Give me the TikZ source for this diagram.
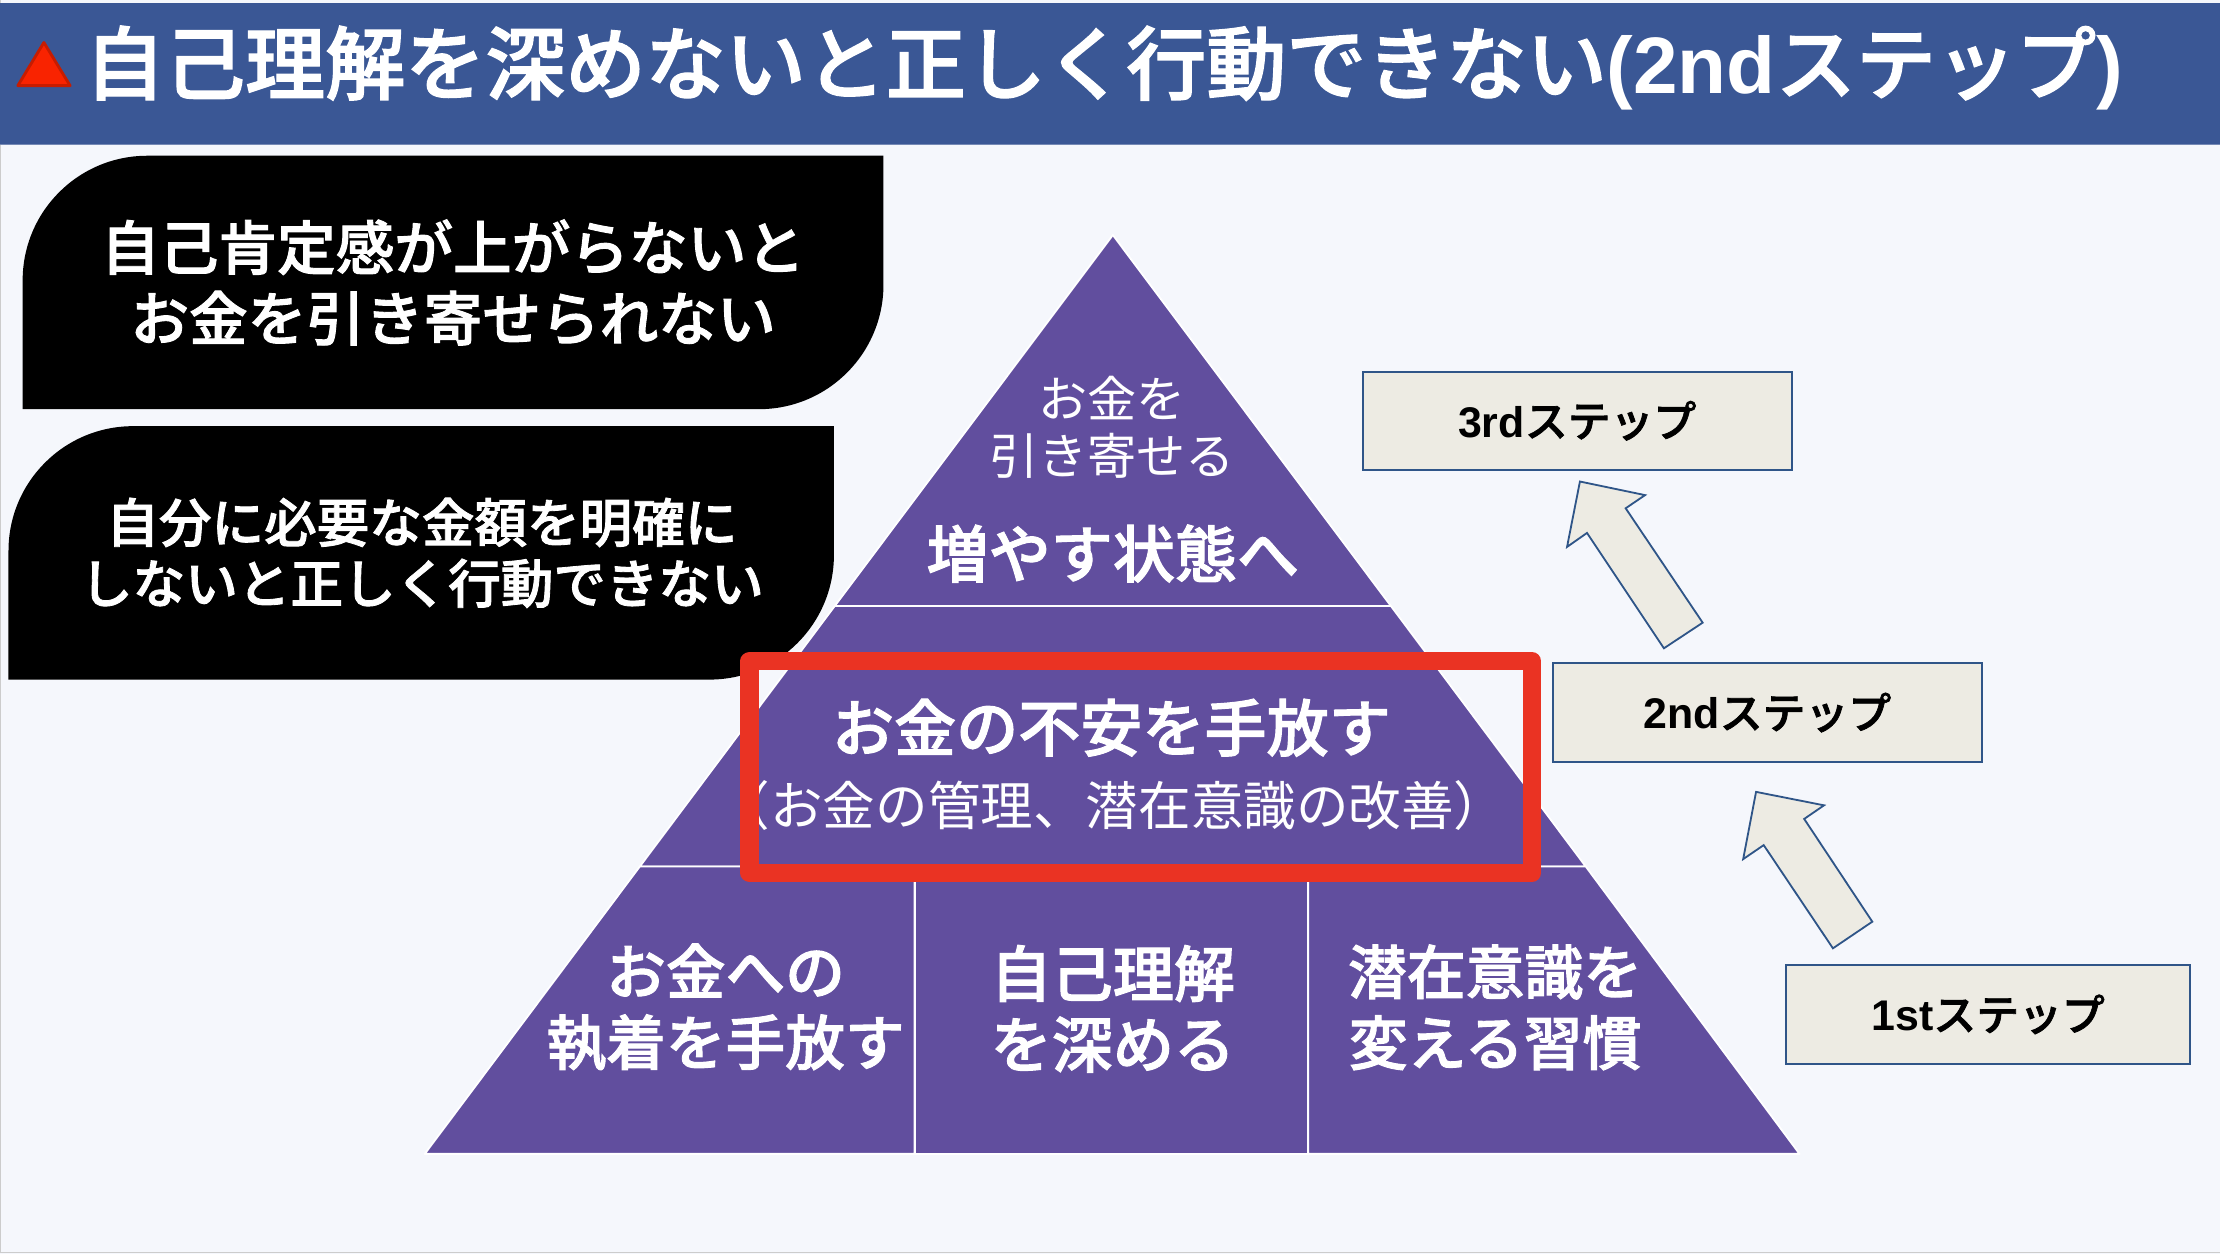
\documentclass[tikz,border=0pt]{standalone}
\usepackage{fontspec}
\setmainfont{Noto Sans CJK JP}[BoldFont={Noto Sans CJK JP Medium},BoldFeatures={FakeBold=1.6}]
\newfontfamily\latfont{Liberation Sans}[BoldFont={Liberation Sans Bold}]
\newcommand{\lat}[1]{{\latfont\bfseries #1}}
\definecolor{pagebg}{HTML}{F5F7FC}
\definecolor{headblue}{HTML}{3A5795}
\definecolor{pyr}{HTML}{614E9E}
\definecolor{hilite}{HTML}{EA3323}
\definecolor{stepfill}{HTML}{EDEBE3}
\definecolor{stepline}{HTML}{2F5588}
\definecolor{emojired}{HTML}{F92300}
\tikzset{
  x=0.7pt,y=-0.7pt,
  txt/.style={inner sep=0pt,outer sep=0pt,align=center,anchor=center,text=white},
  blackbox/.style={fill=black,draw=none},
  pyrpart/.style={fill=pyr,draw=white,line width=0.9pt,line join=round},
  stepbox/.style={fill=stepfill,draw=stepline,line width=1pt},
  uparrow/.style={fill=stepfill,draw=stepline,line width=0.9pt,line join=miter},
  steptext/.style={inner sep=0pt,align=center,anchor=center,text=black,font=\fontsize{21.2pt}{25pt}\selectfont\bfseries},
}
\begin{document}
\begin{tikzpicture}
\useasboundingbox (0,0) rectangle (1568,885.7);
\fill[pagebg] (0,0) rectangle (1568,885.7);
\draw[black!20,line width=0.6pt] (0.4,0) -- (0.4,884.6) -- (1568,884.6);
% header
\fill[headblue] (0,2) rectangle (1568,102);
\draw[headblue!70!white,line width=0.5pt] (0,102) -- (1568,102);
\draw[fill=emojired,draw=emojired!80!black,line width=1.4pt,line join=round]
  (31,30) -- (49.5,60.5) -- (12.6,60.5) -- cycle;
\node[txt,anchor=west,font=\fontsize{39.6pt}{44pt}\selectfont\bfseries] (title) at (60,48)
  {自己理解を深めないと正しく行動できない\lat{(2nd}ステップ\lat{)}};
% black callouts
\path[blackbox] (16,198) .. controls (16,149.4) and (55.4,110) .. (104,110) -- (624,110) -- (624,201)
  .. controls (624,249.6) and (584.6,289) .. (536,289) -- (16,289) -- cycle;
\node[txt,font=\fontsize{29pt}{35pt}\selectfont\bfseries] (callA) at (320,199.5)
  {自己肯定感が上がらないと\\お金を引き寄せられない};
\path[blackbox] (6,389) .. controls (6,340.4) and (45.4,301) .. (94,301) -- (589,301) -- (589,392)
  .. controls (589,440.6) and (549.6,480) .. (501,480) -- (6,480) -- cycle;
\node[txt,font=\fontsize{26pt}{30.1pt}\selectfont\bfseries] (callB) at (298,390.5)
  {自分に必要な金額を明確に\\しないと正しく行動できない};
% pyramid
\draw[pyrpart] (786,166) -- (982.4,428) -- (589.6,428) -- cycle;
\draw[pyrpart] (589.6,428) -- (982.4,428) -- (1120,612) -- (451.9,612) -- cycle;
\draw[pyrpart] (451.9,612) -- (646,612) -- (646,815) -- (300,815) -- cycle;
\draw[pyrpart] (646,612) -- (924,612) -- (924,815) -- (646,815) -- cycle;
\draw[pyrpart] (924,612) -- (1120,612) -- (1271,815) -- (924,815) -- cycle;
\node[txt,font=\fontsize{24.3pt}{28pt}\selectfont] (topa) at (785.5,302) {お金を\\引き寄せる};
\node[txt,font=\fontsize{30.7pt}{35pt}\selectfont\bfseries] (topb) at (786,391) {増やす状態へ};
\node[txt,font=\fontsize{30.7pt}{35pt}\selectfont\bfseries] (mida) at (785,514) {お金の不安を手放す};
\node[txt,font=\fontsize{26pt}{30pt}\selectfont] (midb) at (785.5,569) {（お金の管理、潜在意識の改善）};
\node[txt,font=\fontsize{29.5pt}{35pt}\selectfont\bfseries] (bota) at (512.5,711.5) {お金への\\執着を手放す};
\node[txt,font=\fontsize{30.2pt}{35pt}\selectfont\bfseries] (botb) at (786,712.5) {自己理解\\を深める};
\node[txt,font=\fontsize{29.1pt}{35pt}\selectfont\bfseries] (botc) at (1056,711.5) {潜在意識を\\変える習慣};
% highlight
\draw[hilite,line width=9.1pt,line join=round] (529.5,467) rectangle (1082,616.5);
% steps
\node[stepbox,minimum width=212.1pt,minimum height=48.7pt,inner sep=0pt,outer sep=0pt] (third) at (1114,297.2) {};
\node[steptext] at (third.center) {\lat{3rd}ステップ};
\node[stepbox,minimum width=212.1pt,minimum height=49.1pt,inner sep=0pt,outer sep=0pt] (second) at (1248.3,503.3) {};
\node[steptext] at (second.center) {\lat{2nd}ステップ};
\node[stepbox,minimum width=200pt,minimum height=48.7pt,inner sep=0pt,outer sep=0pt] (first) at (1404.2,716.5) {};
\node[steptext] at (first.center) {\lat{1st}ステップ};
% block arrows
\draw[uparrow] (1115.9,340.1) -- (1161.9,349.7) -- (1148.2,359) -- (1202.6,439.8) -- (1175.2,457.9) -- (1120.9,376.4) -- (1106.8,386.3) -- cycle;
\draw[uparrow] (1240.3,559.3) -- (1288.3,568.8) -- (1274.3,578.4) -- (1322.4,651) -- (1294.6,669.8) -- (1245.7,596.9) -- (1231.2,606.8) -- cycle;
\end{tikzpicture}
\end{document}
